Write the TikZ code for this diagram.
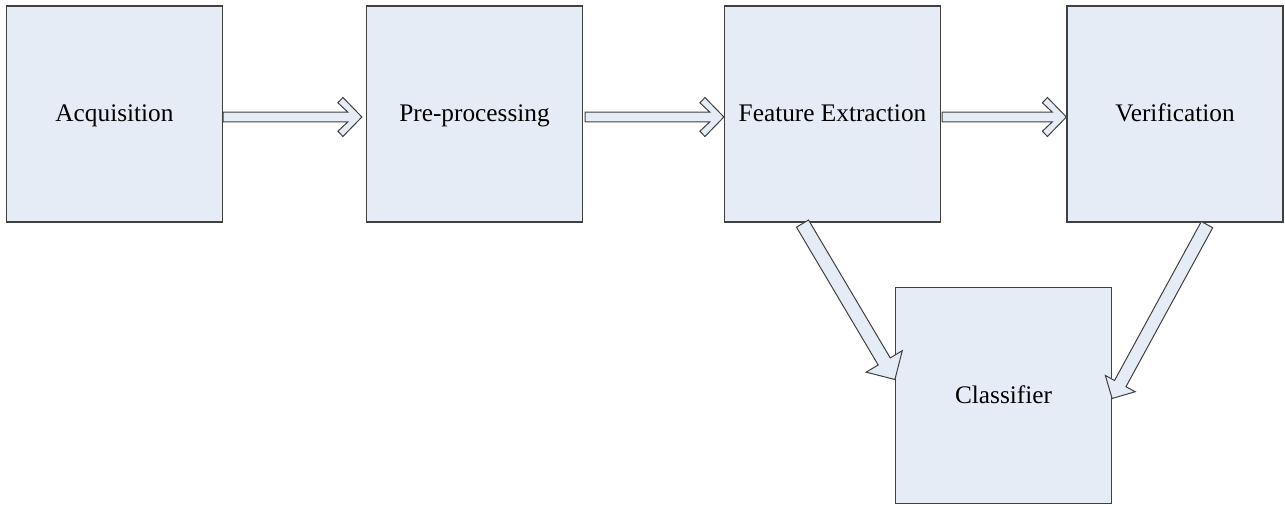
\documentclass[tikz,border=0pt]{standalone}
\usepackage{fontspec}
\setmainfont{Liberation Serif}
\usetikzlibrary{calc}
\definecolor{linegray}{RGB}{64,64,64}
\definecolor{boxfill}{RGB}{230,236,246}
\tikzset{
  stage/.style={draw=linegray, fill=boxfill, line width=1.2pt,
    minimum width=216pt, minimum height=216pt, inner sep=0pt,
    text height=15pt, text depth=0pt,
    font=\fontsize{25.3}{30}\selectfont},
  blockarrow/.style={draw=linegray, fill=boxfill, line width=1pt, line join=miter}
}
% hollow arrow with a chevron head: #1 start, #2 tip
\newcommand\chevronarrow[2]{%
  \path[blockarrow] ($(#1)!4.8pt!-90:(#2)$)
    -- ($(#2)!14pt!(#1)!4.8pt!90:(#1)$)
    -- ($(#2)!24pt!(#1)!14.2pt!90:(#1)$)
    -- ($(#2)!19pt!(#1)!19.5pt!90:(#1)$)
    -- (#2)
    -- ($(#2)!19pt!(#1)!19.5pt!-90:(#1)$)
    -- ($(#2)!24pt!(#1)!14.2pt!-90:(#1)$)
    -- ($(#2)!14pt!(#1)!4.8pt!-90:(#1)$)
    -- ($(#1)!4.8pt!90:(#2)$) -- cycle;}
% hollow arrow with a triangular head:
% #1 start, #2 tip, #3 half shaft width, #4 head length, #5 half head width
\newcommand\trianglearrow[5]{%
  \path[blockarrow] ($(#1)!#3!-90:(#2)$)
    -- ($(#2)!#4!(#1)!#3!90:(#1)$)
    -- ($(#2)!#4!(#1)!#5!90:(#1)$)
    -- (#2)
    -- ($(#2)!#4!(#1)!#5!-90:(#1)$)
    -- ($(#2)!#4!(#1)!#3!-90:(#1)$)
    -- ($(#1)!#3!90:(#2)$) -- cycle;}
\begin{document}
\begin{tikzpicture}[x=1pt, y=-1pt]
  \useasboundingbox (0,0) rectangle (1285,505);

  % processing stages
  \node[stage] (acq) at (114.5,114) {Acquisition};
  \node[stage] (pre) at (474.5,114) {Pre-processing};
  \node[stage] (fe)  at (832.5,114) {Feature Extraction};
  \node[stage] (ver) at (1175,114) {Verification};
  \node[stage] (cls) at (1003.5,395.5) {Classifier};

  % arrow end points
  \coordinate (a1s) at ($(acq.east)+(0,3)$);
  \coordinate (a1t) at ($(pre.west)+(-4,3)$);
  \coordinate (a2s) at ($(pre.east)+(2,3)$);
  \coordinate (a2t) at ($(fe.west)+(0,3)$);
  \coordinate (a3s) at ($(fe.east)+(1,3)$);
  \coordinate (a3t) at ($(ver.west)+(0,3)$);
  \coordinate (d1s) at ($(fe.south)+(-30,1)$);
  \coordinate (d1t) at ($(cls.west)+(0,-16)$);
  \coordinate (d2s) at ($(ver.south)+(32,2)$);
  \coordinate (d2t) at ($(cls.east)+(0,3)$);

  % flow between stages
  \chevronarrow{a1s}{a1t}
  \chevronarrow{a2s}{a2t}
  \chevronarrow{a3s}{a3t}
  \trianglearrow{d1s}{d1t}{7pt}{21pt}{21pt}
  \trianglearrow{d2s}{d2t}{6.5pt}{17pt}{17pt}
\end{tikzpicture}
\end{document}
